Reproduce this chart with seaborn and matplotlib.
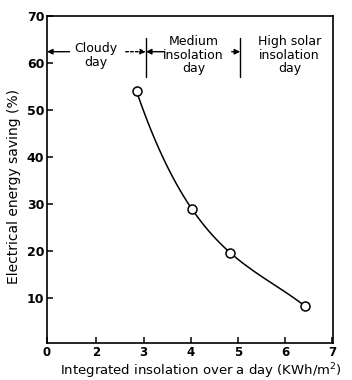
import matplotlib
matplotlib.use("Agg")
import matplotlib.pyplot as plt
import seaborn as sns
import numpy as np
import pandas as pd

# Data
insolation = [2.85, 4.02, 4.84, 6.42]
saving = [54.0, 29.0, 19.6, 8.3]
x_tick_pos = [0.95, 2, 3, 4, 5, 6, 7]
x_tick_labels = ["0", "2", "3", "4", "5", "6", "7"]
y_ticks = [10, 20, 30, 40, 50, 60, 70]
zone_labels = ["Cloudy\nday", "Medium\ninsolation\nday", "High solar\ninsolation\nday"]
zone_centers = [1.98, 4.06, 6.1]
zone_bounds = [3.05, 5.05]

df = pd.DataFrame({"x": insolation, "y": saving})

sns.set_style("ticks")
plt.rcParams["font.family"] = ["DejaVu Sans"]
plt.rcParams["text.color"] = "black"
plt.rcParams["axes.labelcolor"] = "black"

fig = plt.figure(figsize=(3.52, 3.80), dpi=100)
ax = fig.add_axes([47/352, 1-343/380, (333-47)/352, (343-16)/380])

sns.regplot(data=df, x="x", y="y", order=3, ci=None, scatter=False,
            color="black", line_kws={"linewidth": 1.1}, ax=ax)
sns.scatterplot(data=df, x="x", y="y", marker="o", s=42, facecolor="white",
                edgecolor="black", linewidth=1.1, zorder=5, ax=ax)

ax.set_xlim(0.95, 7.02)
ax.set_ylim(0.4, 70)
ax.set_xticks(x_tick_pos)
ax.set_xticklabels(x_tick_labels)
ax.set_yticks(y_ticks)
ax.tick_params(direction="in", length=4.5, width=1.1, colors="black")
ax.tick_params(axis="y", pad=2, labelsize=9)
ax.tick_params(axis="x", pad=2, labelsize=8.5)
for lab in ax.get_xticklabels() + ax.get_yticklabels():
    lab.set_fontweight("bold")
for s in ax.spines.values():
    s.set_visible(True)
    s.set_linewidth(1.2)
    s.set_color("black")

ax.set_xlabel("")
ax.set_ylabel("Electrical energy saving (%)", fontsize=10, color="black")
ax.yaxis.set_label_coords(-0.092, 0.479)
fig.text(200.5/352, 1-371/380, "Integrated insolation over a day (KWh/m$^2$)",
         ha="center", va="center", fontsize=9.5, color="black")

# Zone dividers
for b in zone_bounds:
    ax.plot([b, b], [57.0, 65.3], color="black", linewidth=1.0)

# Zone texts
for c, t in zip(zone_centers, zone_labels):
    ax.text(c, 61.6, t, ha="center", va="center", fontsize=9, linespacing=1.05,
            color="black")

ya = 62.4
ak = dict(arrowstyle="-|>", color="black", lw=1.0, mutation_scale=8, shrinkA=0, shrinkB=0)
ax.annotate("", xy=(0.95, ya), xytext=(1.43, ya), arrowprops=ak)
ax.annotate("", xy=(zone_bounds[0], ya), xytext=(2.62, ya),
            arrowprops=dict(ak, linestyle=(0, (2, 1.5))))
ax.annotate("", xy=(zone_bounds[0], ya), xytext=(3.45, ya), arrowprops=ak)
ax.annotate("", xy=(zone_bounds[1], ya), xytext=(4.87, ya), arrowprops=ak)

fig.savefig("out.png", dpi=100)
